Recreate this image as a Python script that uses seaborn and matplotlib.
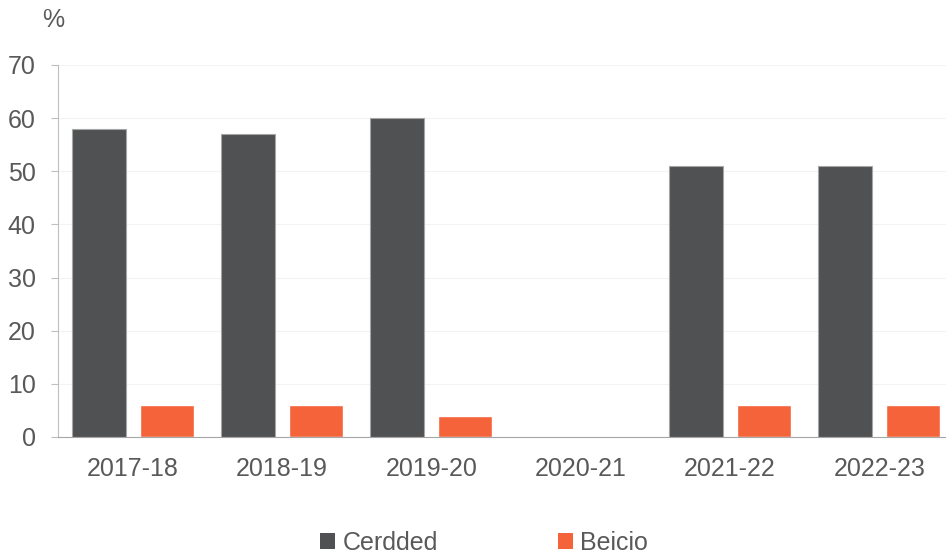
import numpy as np
import pandas as pd
import seaborn as sns
import matplotlib.pyplot as plt
from matplotlib.patches import Patch

# data
years = ['2017-18', '2018-19', '2019-20', '2020-21', '2021-22', '2022-23']
cerdded = [58, 57, 60, np.nan, 51, 51]
beicio = [6, 6, 4, np.nan, 6, 6]
series = ['Cerdded', 'Beicio']
colours = ['#505153', '#F4633A']

df = pd.DataFrame({
    'year': years * 2,
    'value': cerdded + beicio,
    'mode': [series[0]] * len(years) + [series[1]] * len(years),
})

sns.set_style('white')
plt.rcParams['font.family'] = ['Liberation Sans', 'DejaVu Sans']

fig = plt.figure(figsize=(9.46, 5.56), dpi=100)
# the plot area runs a little past the right edge of the picture
ax = fig.add_axes([58 / 946, 1 - 437 / 556, (954 - 58) / 946, (437 - 65) / 556])

sns.barplot(data=df, x='year', y='value', hue='mode', order=years,
            hue_order=series, palette=colours, width=0.91, gap=0.205,
            saturation=1, legend=False, ax=ax)

# light edge on the dark bars
for bar in ax.containers[0]:
    bar.set_edgecolor('#a6a6a6')
    bar.set_linewidth(0.8)

ax.set_xlim(-0.5, 5.5)
ax.set_ylim(0, 70)
ax.set_yticks(range(0, 71, 10))
ax.set_xlabel('')
ax.set_ylabel('')
ax.yaxis.grid(True, color='#f3f3f3', linewidth=0.8)
ax.set_axisbelow(True)

for side in ['top', 'right']:
    ax.spines[side].set_visible(False)
ax.spines['left'].set_color('#bfbfbf')
ax.spines['bottom'].set_color('#a6a6a6')

ax.tick_params(axis='y', left=True, length=5, color='#bfbfbf',
               labelsize=18, labelcolor='#595959', pad=11)
ax.tick_params(axis='x', bottom=False, labelsize=18, labelcolor='#595959', pad=11)

fig.text(53 / 946, 1 - 20 / 556, '%', fontsize=18, color='#595959',
         ha='center', va='center')

handles = [Patch(facecolor=c, edgecolor='none') for c in colours]
fig.legend(handles, series, loc='center', bbox_to_anchor=(484 / 946, 1 - 543 / 556),
           ncol=2, frameon=False, fontsize=18, labelcolor='#595959',
           handlelength=0.6, handleheight=0.6, handletextpad=0.3,
           columnspacing=4.8)

fig.savefig('out.png', dpi=100)
